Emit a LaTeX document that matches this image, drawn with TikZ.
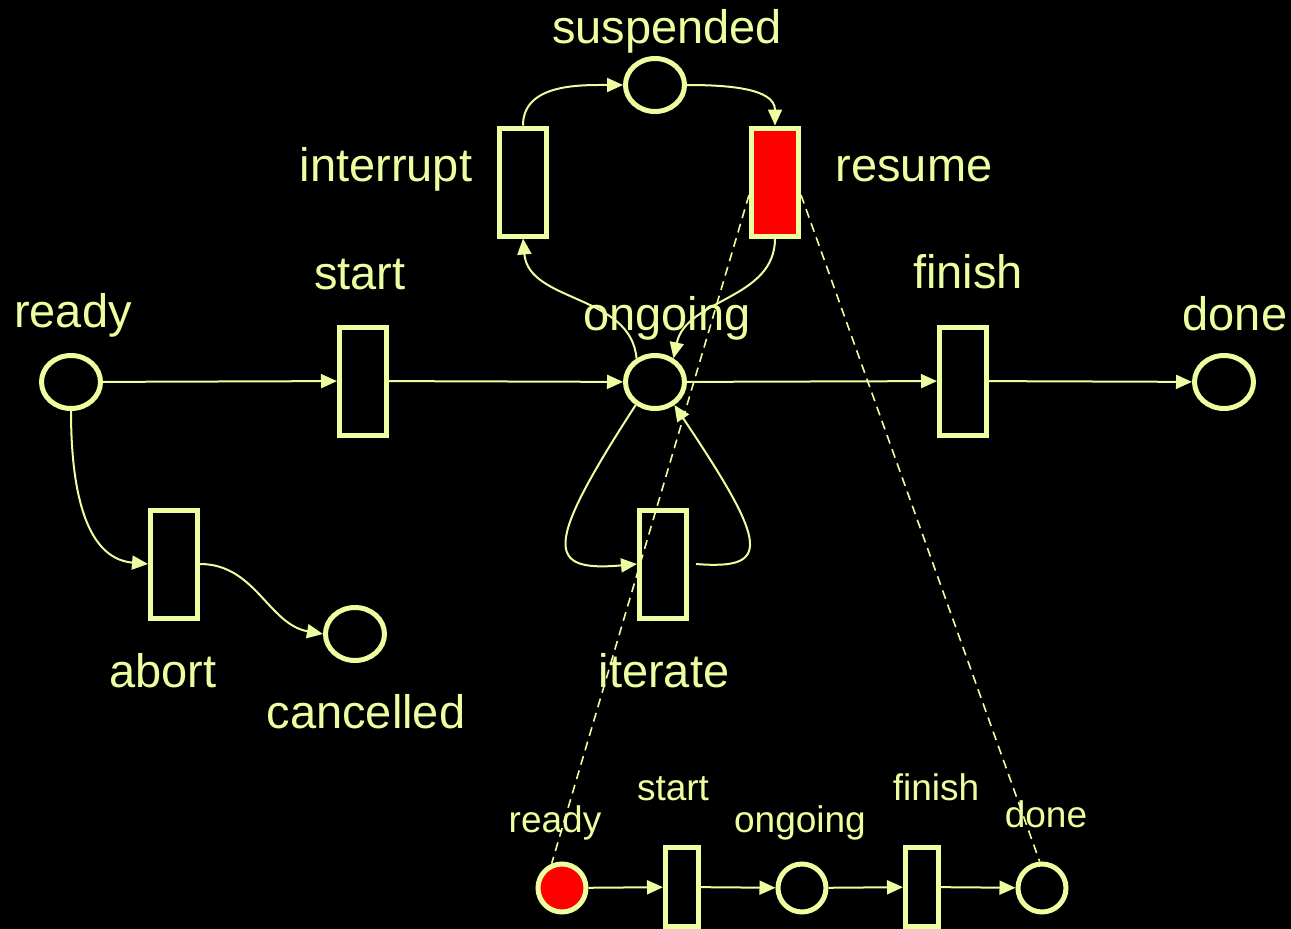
\documentclass[tikz,border=0pt]{standalone}
\usepackage{fontspec}
\setmainfont{Liberation Sans}
\usetikzlibrary{arrows.meta,calc,shapes.geometric}
\definecolor{pn}{RGB}{235,255,160}
\tikzset{
	place/.style={ellipse,draw=pn,line width=5pt,minimum width=59pt,minimum height=53pt,inner sep=0pt},
	bplace/.style={circle,draw=pn,line width=5pt,minimum size=48pt,inner sep=0pt},
	trans/.style={rectangle,draw=pn,line width=5pt,minimum width=47pt,minimum height=108pt,inner sep=0pt},
	btrans/.style={rectangle,draw=pn,line width=5pt,minimum width=33pt,minimum height=79pt,inner sep=0pt},
	arc/.style={draw=pn,line width=2pt,-{Triangle[length=16pt,width=14pt]}},
	link/.style={draw=pn,line width=1.6pt,dash pattern=on 9pt off 6pt},
	lbl/.style={text=pn,inner sep=0pt,anchor=base,font=\fontsize{47}{50}\selectfont},
	blbl/.style={text=pn,inner sep=0pt,anchor=base,font=\fontsize{37}{40}\selectfont}
}
\begin{document}
\begin{tikzpicture}[x=1pt,y=1pt]
			\useasboundingbox (0,0) rectangle (1291,-929);
			\fill[black] (0,0) rectangle (1291,-929);
			% upper net
			\foreach \n/\x/\y in {ready/71/382,ongoing/655/382,done/1224/382,suspended/655/85,cancelled/355/634}
				\node[place] (\n) at (\x,-\y) {};
			\foreach \n/\x/\y in {start/363/381,finish/963/381,interrupt/523/182,abort/174/564,iterate/663/564}
				\node[trans] (\n) at (\x,-\y) {};
			\node[trans,fill=red] (resume) at (775,-182) {};
			\draw[arc] (ready) -- (start);
			\draw[arc] (start) -- (ongoing);
			\draw[arc] (ongoing) -- (finish);
			\draw[arc] (finish) -- (done);
			\draw[arc] (ready.south) to[out=-90,in=175] (abort.west);
			\draw[arc] (abort.east) to[out=0,in=170] (cancelled.west);
			\draw[arc] (ongoing.128) to[out=95,in=-85] (interrupt.south);
			\draw[arc] (interrupt.north) to[out=90,in=180] (suspended.west);
			\draw[arc] (suspended.east) to[out=0,in=90] (resume.north);
			\draw[arc] (resume.south) to[out=-90,in=78] (ongoing.52);
			\draw[arc] (ongoing.-130) .. controls (543,-548) and (546,-572) .. (iterate.west);
			\draw[arc] ([xshift=7pt]iterate.east) .. controls (772,-570) and (768,-545) .. (ongoing.-50);
			% lower net
			\node[bplace,fill=red] (bready) at (562,-888) {};
			\node[bplace] (bongoing) at (802,-888) {};
			\node[bplace] (bdone) at (1042,-888) {};
			\node[btrans] (bstart) at (682,-887) {};
			\node[btrans] (bfinish) at (922,-887) {};
			\draw[arc] (bready) -- (bstart);
			\draw[arc] (bstart) -- (bongoing);
			\draw[arc] (bongoing) -- (bfinish);
			\draw[arc] (bfinish) -- (bdone);
			% labels
			\foreach \t/\x/\y in {suspended/667/43,interrupt/386/181,resume/914/181,start/360/289,finish/968/288,ready/73/327,ongoing/667/330,done/1235/330,abort/163/687,iterate/664/687,cancelled/366/728}
				\node[lbl] (l-\t) at (\x,-\y) {\t};
			\foreach \t/\x/\y in {ready/555/832,start/673/800,ongoing/800/832,finish/936/800,done/1046/827}
				\node[blbl] (bl-\t) at (\x,-\y) {\t};
			% refinement
			\draw[link] ($(resume.west)!.23!(resume.south west)$) -- (bready.113);
			\draw[link] ($(resume.east)!.23!(resume.south east)$) -- (bdone.95);
		\end{tikzpicture}
\end{document}
